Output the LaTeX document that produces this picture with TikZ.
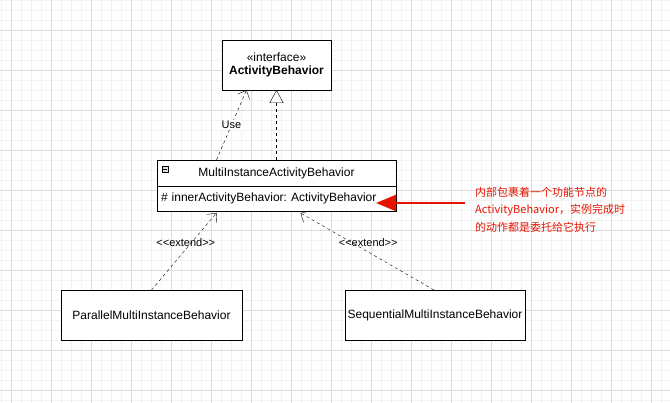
\documentclass[tikz,border=0pt]{standalone}
\usepackage{fontspec}
\setmainfont{Liberation Sans}
\newfontfamily\cjk{Noto Sans CJK SC}
\usepackage{tikz}
\usetikzlibrary{arrows.meta, positioning}
\usepackage{xcolor}
\definecolor{gridminor}{HTML}{F2F2F2}
\definecolor{gridmajor}{HTML}{DCDCDC}
\definecolor{notered}{HTML}{E51400}
\frenchspacing

\begin{document}
\begin{tikzpicture}[
  x=1pt, y=-1pt,
  cls/.style={
    draw, thick, fill=white, minimum width=181pt, outer sep=0pt,
    minimum height=50pt, inner sep=0pt, font=\fontsize{12}{14}\selectfont
  },
  dep/.style={draw, dash pattern=on 3pt off 3pt, -{Straight Barb[length=7pt, width=13pt]}},
  real/.style={draw, dash pattern=on 3pt off 3pt, -{Triangle[open, length=13pt, width=14pt, fill=white]}},
  lbl/.style={font=\fontsize{11}{13}\selectfont, inner sep=1pt}
]
  \useasboundingbox (0,0) rectangle (670,403);
  % background grid
  \foreach \x in {1,11,...,661} \draw[gridminor] (\x,0) -- (\x,403);
  \foreach \y in {0,10,...,400} \draw[gridminor] (0,\y) -- (670,\y);
  \foreach \x in {11,51,...,651} \draw[gridmajor] (\x,0) -- (\x,403);
  \foreach \y in {30,70,...,390} \draw[gridmajor] (0,\y) -- (670,\y);

  \node[cls, minimum width=109pt, align=center] (iface) at (276.5,65)
    {\guillemotleft interface\guillemotright\\[-1pt]\textbf{ActivityBehavior}};
  \node[cls, minimum width=239pt, minimum height=26pt] (mia) [below=70pt of iface]
    {MultiInstanceActivityBehavior};
  \node[cls, minimum height=25pt, text width=231pt, inner xsep=4pt, align=left,
    anchor=north] (attr) at (mia.south) {\# innerActivityBehavior: ActivityBehavior};
  \node[draw, fill=gray!25, minimum size=6pt, inner sep=0pt]
    (fold) at ([xshift=8pt, yshift=-9pt]mia.north west) {};
  \draw ([xshift=1.5pt]fold.west) -- ([xshift=-1.5pt]fold.east);

  \node[cls] (par) at (151.5,315) {ParallelMultiInstanceBehavior};
  \node[cls, minimum width=180pt] (seq) at (435,315) {SequentialMultiInstanceBehavior};

  \draw[dep] ([xshift=-60pt]mia.north) -- node[lbl, fill=white] {Use}
    ([xshift=-30pt]iface.south);
  \draw[real] (mia.north) -- (iface.south);
  \draw[dep] (par.north) -- node[lbl, pos=0.62, xshift=-6pt] {{<}{<}extend{>}{>}}
    ([xshift=-60pt, yshift=-2pt]attr.south);
  \draw[dep] ([xshift=-1pt]seq.north) -- node[lbl, pos=0.62, xshift=17pt] {{<}{<}extend{>}{>}}
    ([xshift=24pt, yshift=-2pt]attr.south);

  \node[font=\cjk\fontsize{11}{17.5}\selectfont, text=notered, align=left,
    anchor=north west, inner sep=0pt] (note) at (475,187)
    {内部包裹着一个功能节点的\\ActivityBehavior，实例完成时\\的动作都是委托给它执行};
  \coordinate (notetip) at (465,203);
  \draw[notered, line width=2pt, -{Triangle[length=20pt, width=16pt]}]
    (notetip) -- ([xshift=-20pt, yshift=-4.5pt]attr.east);
\end{tikzpicture}
\end{document}
